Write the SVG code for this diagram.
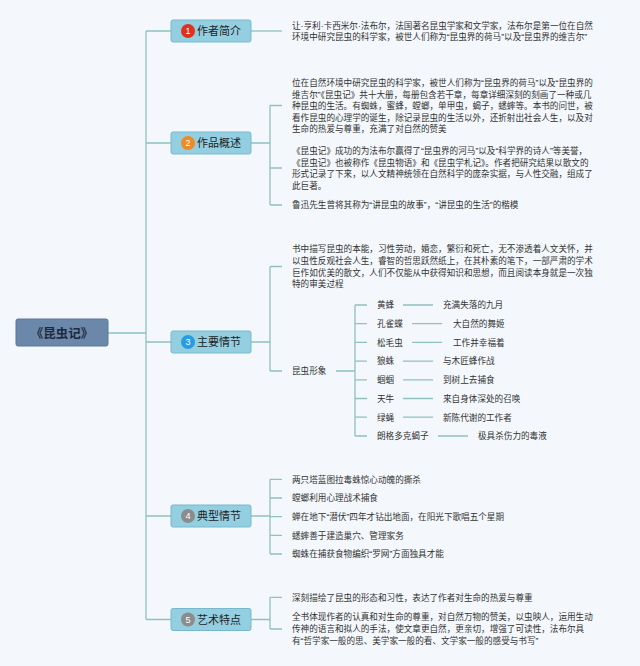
<svg xmlns="http://www.w3.org/2000/svg" width="640" height="666" viewBox="0 0 640 666">
<style>
.bg{fill:#f4f8fc}
.ln{fill:none;stroke:#8fc1bd;stroke-width:1.3}
.box{fill:#93cfe1;stroke:#79b8cc;stroke-width:1}
.root{fill:#6b87aa;stroke:#5d7899;stroke-width:1}
.t{font-family:"Noto Sans CJK SC","Noto Sans",sans-serif;font-size:8.6px;fill:#333}
.q{font-family:"Liberation Sans",sans-serif}
.nt{font-family:"Noto Sans CJK SC","Noto Sans",sans-serif;font-size:11px;fill:#222}
.rt{font-family:"Noto Sans CJK SC","Noto Sans",sans-serif;font-size:12.5px;font-weight:bold;fill:#1e2a3a}
.num{font-family:"Liberation Sans",sans-serif;font-size:9px;fill:#fff;text-anchor:middle}
</style>
<rect class="bg" x="0" y="0" width="640" height="666"/>
<g id="connectors">
<path class="ln" d="M108 333H146M146 31V619.5M146 31H171M146 143H171M146 342H171M146 516H171M146 619.5H171"/>
<path class="ln" d="M251 31H282"/>
<path class="ln" d="M251 143H270M270 105.5V205M270 105.5H282M270 168H282M270 205H282"/>
<path class="ln" d="M251 342H270M270 266.5V371M270 266.5H282M270 371H282"/>
<path class="ln" d="M336 371H355M355 305V436M355 305H367M355 323.7H367M355 342.4H367M355 361.1H367M355 379.8H367M355 398.5H367M355 417.2H367M355 436H367"/>
<path class="ln" d="M403 305H433M412 323.7H442M412 342.4H442M403 361.1H433M403 379.8H433M403 398.5H433M403 417.2H433M438 436H468"/>
<path class="ln" d="M251 516H270M270 479.3V554M270 479.3H282M270 498H282M270 516.7H282M270 535.3H282M270 554H282"/>
<path class="ln" d="M251 619.5H270M270 597.3V629M270 597.3H282M270 629H282"/>
</g>
<g id="root">
<rect class="root" x="16" y="319" width="92" height="27" rx="2"/>
<text class="rt" x="62" y="337.5" text-anchor="middle">《昆虫记》</text>
</g>
<g id="n1">
<rect class="box" x="171" y="20" width="80" height="22" rx="2"/>
<circle cx="188" cy="31" r="7" fill="#e0301e"/>
<text class="num" x="188" y="34.3">1</text>
<text class="nt" x="197" y="35.2">作者简介</text>
</g>
<g id="n1c">
<text class="t" x="292" y="29">让<tspan class="q">·</tspan>亨利<tspan class="q">·</tspan>卡西米尔<tspan class="q">·</tspan>法布尔，法国著名昆虫学家和文学家，法布尔是第一位在自然</text>
<text class="t" x="292" y="40">环境中研究昆虫的科学家，被世人们称为<tspan class="q">“</tspan>昆虫界的荷马<tspan class="q">”</tspan>以及<tspan class="q">“</tspan>昆虫界的维吉尔<tspan class="q">”</tspan></text>
</g>
<g id="n2">
<rect class="box" x="171" y="132" width="80" height="22" rx="2"/>
<circle cx="188" cy="143" r="7" fill="#f08a24"/>
<text class="num" x="188" y="146.3">2</text>
<text class="nt" x="197" y="147.2">作品概述</text>
</g>
<g id="n2c">
<text class="t" x="292" y="86">位在自然环境中研究昆虫的科学家，被世人们称为<tspan class="q">“</tspan>昆虫界的荷马<tspan class="q">”</tspan>以及<tspan class="q">“</tspan>昆虫界的</text>
<text class="t" x="292" y="97.6">维吉尔<tspan class="q">”</tspan>《昆虫记》共十大册，每册包含若干章，每章详细深刻的刻画了一种或几</text>
<text class="t" x="292" y="109.2">种昆虫的生活。有蜘蛛，蜜蜂，螳螂，单甲虫，蝎子，蟋蟀等。本书的问世，被</text>
<text class="t" x="292" y="120.8">看作昆虫的心理学的诞生，除记录昆虫的生活以外，还折射出社会人生，以及对</text>
<text class="t" x="292" y="132.4">生命的热爱与尊重，充满了对自然的赞美</text>
<text class="t" x="292" y="154">《昆虫记》成功的为法布尔赢得了<tspan class="q">“</tspan>昆虫界的河马<tspan class="q">”</tspan>以及<tspan class="q">“</tspan>科学界的诗人<tspan class="q">”</tspan>等美誉，</text>
<text class="t" x="292" y="165.6">《昆虫记》也被称作《昆虫物语》和《昆虫学札记》。作者把研究结果以散文的</text>
<text class="t" x="292" y="177.2">形式记录了下来，以人文精神统领在自然科学的庞杂实据，与人性交融，组成了</text>
<text class="t" x="292" y="188.8">此巨著。</text>
<text class="t" x="292" y="208.3">鲁迅先生曾将其称为<tspan class="q">“</tspan>讲昆虫的故事<tspan class="q">”</tspan>，<tspan class="q">“</tspan>讲昆虫的生活<tspan class="q">”</tspan>的楷模</text>
</g>
<g id="n3">
<rect class="box" x="171" y="331" width="80" height="22" rx="2"/>
<circle cx="188" cy="342" r="7" fill="#2a9be0"/>
<text class="num" x="188" y="345.3">3</text>
<text class="nt" x="197" y="346.2">主要情节</text>
</g>
<g id="n3c">
<text class="t" x="292" y="252.3">书中描写昆虫的本能，习性劳动，婚恋，繁衍和死亡，无不渗透着人文关怀，并</text>
<text class="t" x="292" y="264">以虫性反观社会人生，睿智的哲思跃然纸上，在其朴素的笔下，一部严肃的学术</text>
<text class="t" x="292" y="275.6">巨作如优美的散文，人们不仅能从中获得知识和思想，而且阅读本身就是一次独</text>
<text class="t" x="292" y="287.2">特的审美过程</text>
<text class="t" x="292" y="374.3">昆虫形象</text>
</g>
<g id="bugs">
<text class="t" x="377" y="308.3">黄蜂</text>
<text class="t" x="443" y="308.3">充满失落的九月</text>
<text class="t" x="377" y="327">孔雀蝶</text>
<text class="t" x="453" y="327">大自然的舞姬</text>
<text class="t" x="377" y="345.7">松毛虫</text>
<text class="t" x="453" y="345.7">工作并幸福着</text>
<text class="t" x="377" y="364.4">狼蛛</text>
<text class="t" x="443" y="364.4">与木匠蜂作战</text>
<text class="t" x="377" y="383.1">蝈蝈</text>
<text class="t" x="443" y="383.1">到树上去捕食</text>
<text class="t" x="377" y="401.8">天牛</text>
<text class="t" x="443" y="401.8">来自身体深处的召唤</text>
<text class="t" x="377" y="420.5">绿蝇</text>
<text class="t" x="443" y="420.5">新陈代谢的工作者</text>
<text class="t" x="377" y="439.3">朗格多克蝎子</text>
<text class="t" x="478" y="439.3">极具杀伤力的毒液</text>
</g>
<g id="n4">
<rect class="box" x="171" y="505" width="80" height="22" rx="2"/>
<circle cx="188" cy="516" r="7" fill="#8c8c8c"/>
<text class="num" x="188" y="519.3">4</text>
<text class="nt" x="197" y="520.2">典型情节</text>
</g>
<g id="n4c">
<text class="t" x="292" y="482.6">两只塔蓝图拉毒蛛惊心动魄的撕杀</text>
<text class="t" x="292" y="501.3">螳螂利用心理战术捕食</text>
<text class="t" x="292" y="520">蝉在地下<tspan class="q">“</tspan>潜伏<tspan class="q">”</tspan>四年才钻出地面，在阳光下歌唱五个星期</text>
<text class="t" x="292" y="538.6">蟋蟀善于建造巢穴、管理家务</text>
<text class="t" x="292" y="557.3">蜘蛛在捕获食物编织<tspan class="q">“</tspan>罗网<tspan class="q">”</tspan>方面独具才能</text>
</g>
<g id="n5">
<rect class="box" x="171" y="608.5" width="80" height="22" rx="2"/>
<circle cx="188" cy="619.5" r="7" fill="#8c8c8c"/>
<text class="num" x="188" y="622.8">5</text>
<text class="nt" x="197" y="623.7">艺术特点</text>
</g>
<g id="n5c">
<text class="t" x="292" y="600.6">深刻描绘了昆虫的形态和习性，表达了作者对生命的热爱与尊重</text>
<text class="t" x="292" y="620.3">全书体现作者的认真和对生命的尊重，对自然万物的赞美，以虫映人，运用生动</text>
<text class="t" x="292" y="632.3">传神的语言和拟人的手法，使文章更自然，更亲切，增强了可读性，法布尔具</text>
<text class="t" x="292" y="644.3">有<tspan class="q">“</tspan>哲学家一般的思、美学家一般的看、文学家一般的感受与书写<tspan class="q">”</tspan></text>
</g>
</svg>
